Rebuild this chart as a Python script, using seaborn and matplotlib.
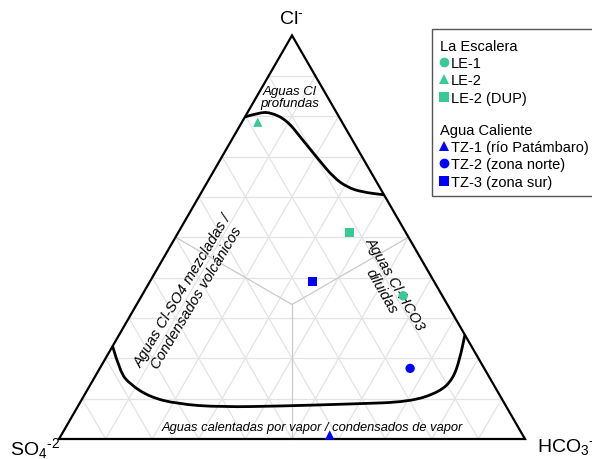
import numpy as np
import pandas as pd
import matplotlib
matplotlib.use("Agg")
import matplotlib.pyplot as plt
import seaborn as sns
from matplotlib.lines import Line2D
from matplotlib.patches import Rectangle, PathPatch
from matplotlib.path import Path

# Sample compositions (% of Cl, SO4, HCO3)
samples = ["LE-1", "LE-2", "LE-2 (DUP)",
           "TZ-1 (río Patámbaro)", "TZ-2 (zona norte)", "TZ-3 (zona sur)"]
groups = ["La Escalera"] * 3 + ["Agua Caliente"] * 3
cl = [35.5, 78.5, 51.2, 1.0, 17.5, 39.0]
so4 = [8.4, 18.1, 12.1, 41.4, 15.9, 26.1]
hco3 = [56.1, 3.4, 36.7, 57.6, 66.6, 34.9]

# Field boundaries (% Cl, % HCO3)
deep_cl = [79.8, 80.8, 81.0, 79.0, 74.3, 69.4, 64.9, 62.4, 61.2, 60.5]
deep_hco3 = [0.0, 2.3, 4.8, 9.4, 15.0, 20.9, 26.4, 30.6, 34.4, 39.5]
steam_cl = [23.0, 16.6, 13.6, 10.4, 8.7, 7.9, 8.2, 8.7, 9.2, 11.7, 14.9, 19.8, 25.8]
steam_hco3 = [0.0, 4.8, 8.4, 14.3, 21.0, 30.6, 44.8, 58.8, 70.7, 75.9, 77.1, 76.1, 74.2]

GREEN = "#38C995"
BLUE = "#0000FF"
marker_map = {"LE-1": "o", "LE-2": "^", "LE-2 (DUP)": "s",
              "TZ-1 (río Patámbaro)": "^", "TZ-2 (zona norte)": "o",
              "TZ-3 (zona sur)": "s"}

sns.set_theme(style="white")
plt.rcParams["font.family"] = ["Liberation Sans", "DejaVu Sans"]
plt.rcParams["text.color"] = "black"
plt.rcParams["mathtext.fontset"] = "custom"
plt.rcParams["mathtext.rm"] = "Liberation Sans"
plt.rcParams["mathtext.it"] = "Liberation Sans:italic"


def to_xy(c, h):
    c = np.asarray(c, dtype=float) / 100.0
    h = np.asarray(h, dtype=float) / 100.0
    return h + c / 2.0, c * np.sqrt(3) / 2.0


def smooth_curve(ax, xs, ys, **kw):
    verts = [(xs[0], ys[0])]
    codes = [Path.MOVETO]
    for i in range(1, len(xs) - 1):
        mid = ((xs[i] + xs[i + 1]) / 2.0, (ys[i] + ys[i + 1]) / 2.0)
        verts += [(xs[i], ys[i]), mid]
        codes += [Path.CURVE3, Path.CURVE3]
    verts.append((xs[-1], ys[-1]))
    codes.append(Path.LINETO)
    ax.add_patch(PathPatch(Path(verts, codes), fill=False, **kw))


fig = plt.figure(figsize=(5.92, 4.60), dpi=100)
ax = fig.add_axes([0, 0, 1, 1])

# 10 % grid
grid_kw = dict(color="#e3e3e3", lw=0.9, zorder=1)
for k in range(1, 10):
    f = k * 10
    x, y = to_xy([f, f], [0, 100 - f])
    ax.plot(x, y, **grid_kw)
    x, y = to_xy([0, 100 - f], [f, f])
    ax.plot(x, y, **grid_kw)
    x, y = to_xy([0, 100 - f], [100 - f, 0])
    ax.plot(x, y, **grid_kw)

# centroid dividers
for c_end, h_end in [(50, 0), (50, 50), (0, 50)]:
    x, y = to_xy([100 / 3, c_end], [100 / 3, h_end])
    ax.plot(x, y, color="#c9c9c9", lw=0.9, zorder=1.5)

# triangle frame
x, y = to_xy([0, 100, 0, 0], [0, 0, 100, 0])
ax.plot(x, y, color="black", lw=1.6, zorder=3, solid_joinstyle="miter")

# field boundaries
x, y = to_xy(deep_cl, deep_hco3)
smooth_curve(ax, x, y, color="black", lw=2.0, zorder=3)
x, y = to_xy(steam_cl, steam_hco3)
smooth_curve(ax, x, y, color="black", lw=2.0, zorder=3)

# samples
px, py = to_xy(cl, hco3)
df = pd.DataFrame({"x": px, "y": py, "sample": samples, "group": groups})
sns.scatterplot(data=df, x="x", y="y", hue="group", style="sample",
                palette={"La Escalera": GREEN, "Agua Caliente": BLUE},
                markers=marker_map, s=45, linewidth=0, legend=False,
                ax=ax, zorder=4)
ax.set_xlim(-59 / 466, 533 / 466)
ax.set_ylim(-20 / 466, 440 / 466)
ax.axis("off")

# vertex labels
ax.text(232 / 466, 420 / 466, "Cl$^{\u2010}$", fontsize=14, ha="center", va="center")
ax.text(-24 / 466, -15 / 466, "SO$_4$$^{\u20102}$", fontsize=14, ha="center", va="baseline")
ax.text(478 / 466, -12 / 466, "HCO$_3$$^{\u2010}$", fontsize=14, ha="left", va="baseline")

# field names
ax.text(231 / 466, 342 / 466, "Aguas Cl\nprofundas", fontsize=9.5, style="italic",
        ha="center", va="center", linespacing=1.1)
ax.text(130.5 / 466, 145.5 / 466, "Aguas Cl-SO4 mezcladas /\nCondensados volcánicos",
        fontsize=10.5, style="italic", rotation=59, rotation_mode="anchor",
        ha="center", va="center", multialignment="center", linespacing=1.15)
ax.text(329.5 / 466, 152 / 466, "Aguas Cl-HCO3\ndiluidas",
        fontsize=10.5, style="italic", rotation=-60, rotation_mode="anchor",
        ha="center", va="center", multialignment="center", linespacing=1.15)
ax.text(253.5 / 466, 9.3 / 466, "Aguas calentadas por vapor / condensados de vapor",
        fontsize=9.3, style="italic", ha="center", va="baseline")

# legend box
ax.add_patch(Rectangle((432 / 592, (460 - 197) / 460), 170 / 592, 167 / 460,
                       transform=fig.transFigure, facecolor="white",
                       edgecolor="#555555", lw=1.0, zorder=5, clip_on=False))


def handles_for(names, color):
    return [Line2D([], [], ls="none", marker=marker_map[n], color=color,
                   markersize=7, markeredgewidth=0, label=n) for n in names]


leg_kw = dict(loc="upper left", bbox_transform=fig.transFigure, frameon=False,
              fontsize=10.5, title_fontsize=10.5, alignment="left",
              handlelength=0.6, handletextpad=0.15, labelspacing=0.22,
              borderpad=0, borderaxespad=0)
leg1 = ax.legend(handles=handles_for(samples[:3], GREEN), title="La Escalera",
                 bbox_to_anchor=(440 / 592, 1 - 40 / 460), **leg_kw)
leg1.set_zorder(6)
ax.add_artist(leg1)
leg2 = ax.legend(handles=handles_for(samples[3:], BLUE), title="Agua Caliente",
                 bbox_to_anchor=(440 / 592, 1 - 124 / 460), **leg_kw)
leg2.set_zorder(6)

fig.savefig("out.png", dpi=100)
